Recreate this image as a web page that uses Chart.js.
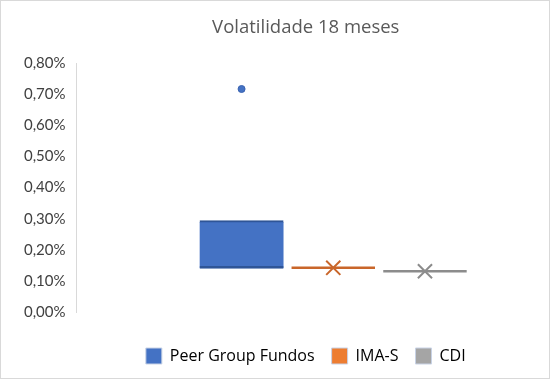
<!DOCTYPE html>
<html>
<head>
<meta charset="utf-8">
<script src="https://cdn.jsdelivr.net/npm/chart.js@4.4.1/dist/chart.umd.min.js"></script>
<style>
	html, body { margin: 0; padding: 0; background: #fff; }
	#wrap { width: 550px; height: 379px; box-sizing: border-box; border: 1px solid #d9d9d9; }
	#wrap canvas { display: block; }
</style>
</head>
<body>
<div id="wrap"><canvas id="chart" width="548" height="377"></canvas></div>
<script>
// series shown in the box plot
const seriesNames = ['Peer Group Fundos', 'IMA-S', 'CDI'];
const boxQ1 = [0.141, 0.142, 0.131];
const boxQ3 = [0.294, 0.142, 0.131];
const medians = [0.144, 0.142, 0.131];
const means = [null, 0.142, 0.131];
const outliers = [[0.717], [], []];
const yTicks = [0, 0.1, 0.2, 0.3, 0.4, 0.5, 0.6, 0.7, 0.8];

const fillColors = ['#4472C4', '#ED7D31', '#A5A5A5'];
const lineColors = ['#2F5597', '#C9662A', '#8C8C8C'];
const halfWidth = 0.455;

let datasets = [];

// boxes (only where q1 != q3)
datasets.push({
	type: 'bar',
	label: 'box',
	data: seriesNames.map((n, i) => ({x: i + 1, y: [boxQ1[i], boxQ3[i]]})).filter(d => d.y[1] > d.y[0]),
	backgroundColor: fillColors[0],
	borderColor: lineColors[0],
	borderWidth: {top: 2, bottom: 0, left: 0, right: 0},
	borderSkipped: false,
	barThickness: 84,
	order: 3
});

// median lines
seriesNames.forEach((n, i) => {
	datasets.push({
		type: 'line',
		label: 'median ' + n,
		data: [{x: i + 1 - halfWidth, y: medians[i]}, {x: i + 1 + halfWidth, y: medians[i]}],
		borderColor: lineColors[i],
		borderWidth: 2.5,
		pointRadius: 0,
		order: 2
	});
});

// mean markers
seriesNames.forEach((n, i) => {
	if (means[i] === null) return;
	datasets.push({
		type: 'scatter',
		label: 'mean ' + n,
		data: [{x: i + 1, y: means[i]}],
		pointStyle: 'crossRot',
		pointRadius: 10,
		borderWidth: 2,
		borderColor: lineColors[i],
		order: 1
	});
});

// outliers
seriesNames.forEach((n, i) => {
	if (!outliers[i].length) return;
	datasets.push({
		type: 'scatter',
		label: 'outlier ' + n,
		data: outliers[i].map(v => ({x: i + 1, y: v})),
		pointStyle: 'circle',
		pointRadius: 3.5,
		backgroundColor: fillColors[i],
		borderColor: '#3A62B0',
		borderWidth: 1,
		order: 1
	});
});

new Chart(document.getElementById('chart'), {
	type: 'bar',
	data: {datasets: datasets},
	options: {
		responsive: false,
		animation: false,
		layout: {padding: {left: 12, right: 14, top: 0, bottom: 4}},
		scales: {
			x: {
				type: 'linear',
				offset: false,
				min: -0.8,
				max: 4.2,
				ticks: {display: false},
				grid: {display: false, offset: false},
				border: {display: false},
				afterFit: (s) => { s.height = 19; }
			},
			y: {
				min: 0,
				max: 0.8,
				afterBuildTicks: (s) => { s.ticks = yTicks.map(v => ({value: v})); },
				ticks: {
					padding: 11,
					color: '#404040',
					font: {family: 'Lato', size: 15},
					callback: (v) => v.toFixed(2).replace('.', ',') + '%'
				},
				grid: {display: false, drawTicks: false},
				border: {display: true, color: '#d9d9d9', width: 1}
			}
		},
		plugins: {
			tooltip: {enabled: false},
			title: {
				display: true,
				text: 'Volatilidade 18 meses',
				fullSize: false,
				color: '#595959',
				font: {family: 'Open Sans', size: 18.5, weight: 'normal'},
				padding: {top: 16, bottom: 24}
			},
			legend: {
				position: 'bottom',
				fullSize: false,
				labels: {
					boxWidth: 16,
					boxHeight: 16,
					padding: 17,
					color: '#404040',
					font: {family: 'Open Sans', size: 16},
					generateLabels: () => seriesNames.map((n, i) => ({
						text: n,
						fillStyle: fillColors[i],
						strokeStyle: '#c9d3e6',
						lineWidth: 1,
						datasetIndex: 0
					}))
				},
				onClick: () => {}
			}
		}
	}
});
</script>
</body>
</html>
